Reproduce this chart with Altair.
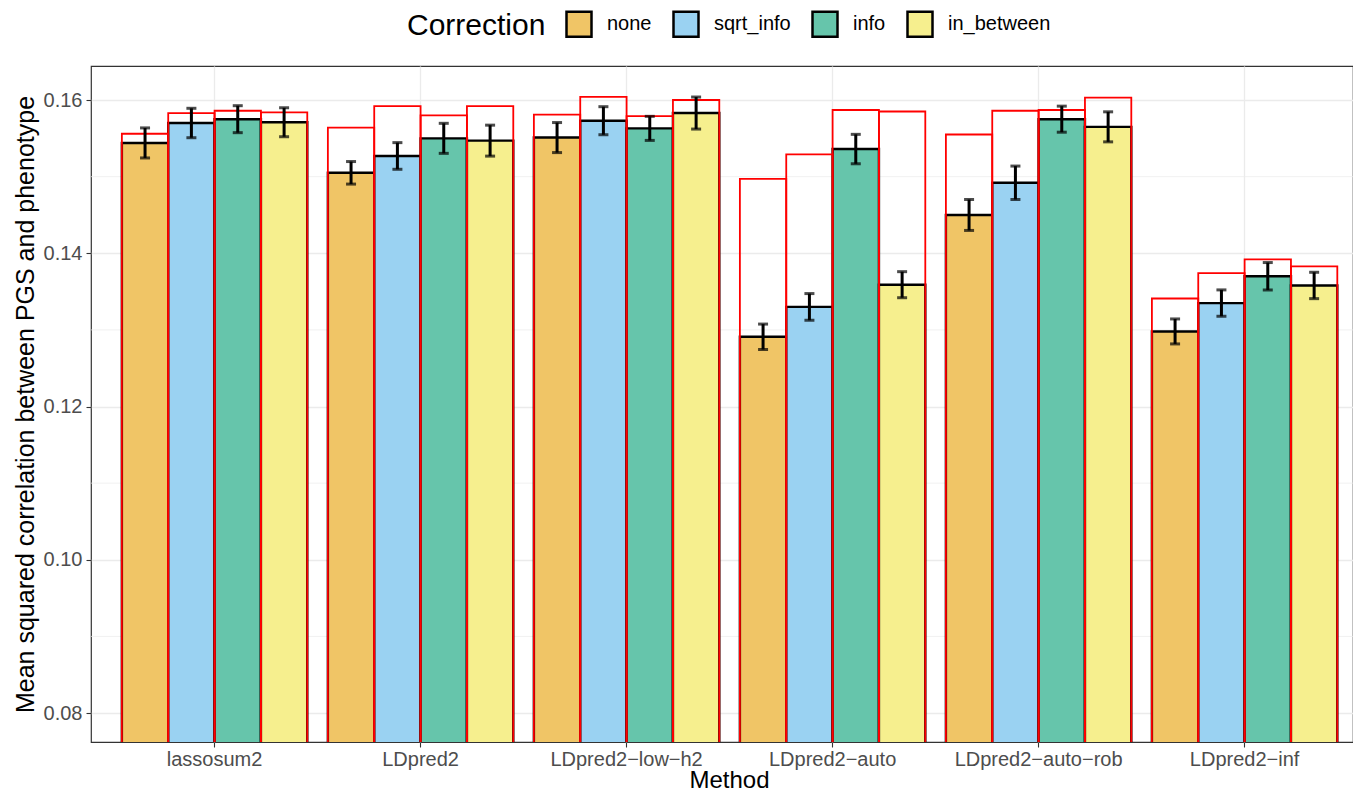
import altair as alt
import pandas as pd

methods = ["lassosum2", "LDpred2", "LDpred2-low-h2", "LDpred2-auto", "LDpred2-auto-rob", "LDpred2-inf"]
corrections = ["none", "sqrt_info", "info", "in_between"]
fill_colors = ["#F0C566", "#9AD2F2", "#66C5AB", "#F6EF8E"]

# mean squared correlation (filled bars), per correction, in method order
r2_none = [0.1544, 0.1505, 0.1551, 0.1291, 0.1450, 0.1298]
r2_sqrt_info = [0.1570, 0.1527, 0.1573, 0.1330, 0.1492, 0.1335]
r2_info = [0.1575, 0.1550, 0.1563, 0.1536, 0.1575, 0.1370]
r2_in_between = [0.1571, 0.1547, 0.1583, 0.1359, 0.1565, 0.1358]

# red outlined bars
red_none = [0.1556, 0.1564, 0.1581, 0.1497, 0.1555, 0.1341]
red_sqrt_info = [0.1583, 0.1592, 0.1604, 0.1529, 0.1586, 0.1374]
red_info = [0.1586, 0.1580, 0.1579, 0.1587, 0.1587, 0.1392]
red_in_between = [0.1584, 0.1592, 0.1600, 0.1585, 0.1603, 0.1383]

# error bar half-widths
err_none = [0.00196, 0.00147, 0.00196, 0.00166, 0.00202, 0.00163]
err_sqrt_info = [0.00192, 0.00174, 0.00183, 0.00174, 0.00218, 0.00172]
err_info = [0.00176, 0.00196, 0.00157, 0.00192, 0.00170, 0.00179]
err_in_between = [0.00189, 0.00202, 0.00209, 0.00170, 0.00196, 0.00172]

y_ticks = [0.08, 0.10, 0.12, 0.14, 0.16]
y_minor = [0.09, 0.11, 0.13, 0.15]
y_domain = [0.07622, 0.16444]

r2_all = [r2_none, r2_sqrt_info, r2_info, r2_in_between]
red_all = [red_none, red_sqrt_info, red_info, red_in_between]
err_all = [err_none, err_sqrt_info, err_info, err_in_between]

rows = []
for ci, corr in enumerate(corrections):
    for mi, m in enumerate(methods):
        v = r2_all[ci][mi]
        e = err_all[ci][mi]
        rows.append({"method": m, "correction": corr, "r2": v, "red": red_all[ci][mi],
                     "lo": v - e, "hi": v + e})
df = pd.DataFrame(rows)

yscale = alt.Scale(domain=y_domain, nice=False, zero=False)
yaxis = alt.Axis(title="Mean squared correlation between PGS and phenotype",
                 values=y_ticks, format=".2f", grid=True, titleFontSize=25,
                 titleX=-58, titleY=338, titleBaseline="alphabetic",
                 labelPadding=4)
xenc = alt.X("method:N", sort=methods,
             scale=alt.Scale(paddingInner=0.1, paddingOuter=0.113, align=0.663),
             axis=alt.Axis(title="Method", labelAngle=0, grid=True, bandPosition=0.5,
                           labelExpr="replace(replace(datum.label, '-', '\u2212'), '-', '\u2212')",
                           titleX=638, titleY=45, titleBaseline="alphabetic",
                           titleAnchor="start", titleAlign="center",
                           labelPadding=2))
xoff = alt.XOffset("correction:N", sort=corrections,
                   scale=alt.Scale(paddingInner=0, paddingOuter=0))

base = alt.Chart(df)

minor = alt.Chart(pd.DataFrame({"y": y_minor})).mark_rule(
    color="#EBEBEB", strokeWidth=0.7).encode(y=alt.Y("y:Q", scale=yscale, axis=yaxis))

bars = base.mark_bar(stroke="black", strokeWidth=2.4, clip=True).encode(
    x=xenc, xOffset=xoff,
    y=alt.Y("r2:Q", scale=yscale, axis=yaxis),
    fill=alt.Fill("correction:N", sort=corrections,
                  scale=alt.Scale(domain=corrections, range=fill_colors),
                  legend=alt.Legend(title="Correction", orient="none", direction="horizontal",
                                    titleOrient="left", legendX=316, legendY=-56,
                                    symbolType="square", symbolSize=625,
                                    symbolStrokeColor="black", symbolStrokeWidth=2.5,
                                    labelFontSize=20, labelColor="black", labelOffset=14,
                                    columnPadding=16, titleFontSize=30,
                                    titleFontWeight="normal", titleColor="black",
                                    titlePadding=19, padding=0)),
)

red = base.mark_bar(fillOpacity=0, stroke="red", strokeWidth=1.8, clip=True).encode(
    x=xenc, xOffset=xoff, y=alt.Y("red:Q", scale=yscale, axis=yaxis))

err = base.mark_rule(color="black", strokeWidth=3).encode(
    x=xenc, xOffset=xoff, y=alt.Y("lo:Q", scale=yscale, axis=yaxis), y2="hi:Q")
cap_lo = base.mark_tick(color="black", thickness=3, size=10).encode(
    x=xenc, xOffset=xoff, y=alt.Y("lo:Q", scale=yscale, axis=yaxis))
cap_hi = base.mark_tick(color="black", thickness=3, size=10).encode(
    x=xenc, xOffset=xoff, y=alt.Y("hi:Q", scale=yscale, axis=yaxis))

chart = alt.layer(minor, bars, red, err, cap_lo, cap_hi).properties(
    width=1262, height=676,
    autosize=alt.AutoSizeParams(type="none"),
    padding={"left": 83, "top": 58, "right": 0, "bottom": 50},
).configure_view(stroke="#333333", strokeWidth=1.2).configure_axis(
    labelFont="Liberation Sans", titleFont="Liberation Sans",
    labelFontSize=20, labelColor="#4D4D4D", titleFontSize=24,
    titleFontWeight="normal", titleColor="black",
    tickColor="#333333", tickSize=5, tickWidth=1.1, domain=False,
    gridColor="#EBEBEB", gridWidth=1.3,
).configure_legend(labelFont="Liberation Sans", titleFont="Liberation Sans")

chart.save("out.html", embed_options={"renderer": "svg", "actions": False})
